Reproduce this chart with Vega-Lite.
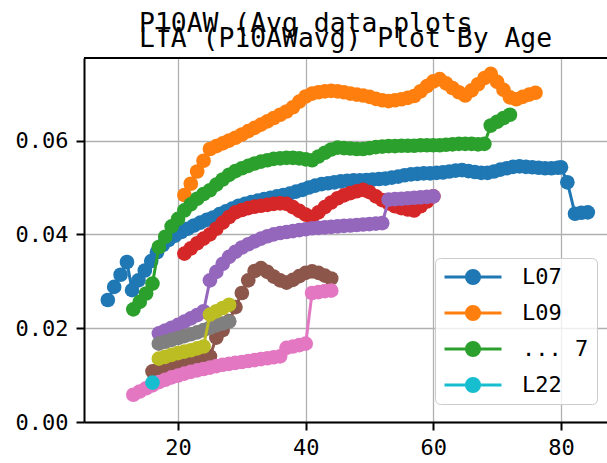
{
"$schema":"https://vega.github.io/schema/vega-lite/v6.json",
"width":523,"height":364,
"autosize":{"type":"none"},
"padding":{"left":84,"top":58,"right":0,"bottom":41},
"background":"white",
"config":{"view":{"stroke":null},"font":"DejaVu Sans Mono"},
"title":{"text":"\u00a0P10AW (Avg data plots","subtitle":"LTA (P10AWavg) Plot By Age","anchor":"start","frame":"group","dx":55,"offset":5,"font":"DejaVu Sans Mono","fontSize":26.4,"fontWeight":"normal","color":"black","subtitleFont":"DejaVu Sans Mono","subtitleFontSize":26.4,"subtitleColor":"black","subtitlePadding":-12},
"datasets":{"pts":[
{"s":"L07","age":9,"v":0.026},{"s":"L07","age":10,"v":0.0288},{"s":"L07","age":11,"v":0.0314},{"s":"L07","age":12,"v":0.0341},{"s":"L07","age":12.8,"v":0.0281},{"s":"L07","age":13.8,"v":0.0302},{"s":"L07","age":14.8,"v":0.0323},{"s":"L07","age":15.8,"v":0.0343},{"s":"L07","age":16.7,"v":0.0362},{"s":"L07","age":17.6,"v":0.0377},{"s":"L07","age":18.5,"v":0.0388},{"s":"L07","age":19.5,"v":0.0397},{"s":"L07","age":20.5,"v":0.0405},{"s":"L07","age":21.5,"v":0.0412},{"s":"L07","age":22.5,"v":0.0419},{"s":"L07","age":23.5,"v":0.0425},{"s":"L07","age":24.5,"v":0.0431},{"s":"L07","age":25.5,"v":0.0436},{"s":"L07","age":26.5,"v":0.0443},{"s":"L07","age":27.5,"v":0.0449},{"s":"L07","age":28.5,"v":0.0455},{"s":"L07","age":29.5,"v":0.0461},{"s":"L07","age":30.5,"v":0.0465},{"s":"L07","age":31.5,"v":0.0469},{"s":"L07","age":32.5,"v":0.0472},{"s":"L07","age":33.5,"v":0.0475},{"s":"L07","age":34.5,"v":0.0478},{"s":"L07","age":35.5,"v":0.0481},{"s":"L07","age":36.5,"v":0.0484},{"s":"L07","age":37.5,"v":0.0487},{"s":"L07","age":38.5,"v":0.0491},{"s":"L07","age":39.5,"v":0.0495},{"s":"L07","age":40.5,"v":0.05},{"s":"L07","age":41.5,"v":0.0504},{"s":"L07","age":42.5,"v":0.0507},{"s":"L07","age":43.5,"v":0.0509},{"s":"L07","age":44.5,"v":0.0511},{"s":"L07","age":45.5,"v":0.0513},{"s":"L07","age":46.5,"v":0.0514},{"s":"L07","age":47.5,"v":0.0515},{"s":"L07","age":48.5,"v":0.0515},{"s":"L07","age":49.5,"v":0.0516},{"s":"L07","age":50.5,"v":0.0517},{"s":"L07","age":51.5,"v":0.0518},{"s":"L07","age":52.5,"v":0.0519},{"s":"L07","age":53.5,"v":0.0521},{"s":"L07","age":54.5,"v":0.0523},{"s":"L07","age":55.5,"v":0.0526},{"s":"L07","age":56.5,"v":0.0528},{"s":"L07","age":57.5,"v":0.0529},{"s":"L07","age":58.5,"v":0.053},{"s":"L07","age":59.5,"v":0.053},{"s":"L07","age":60.5,"v":0.0531},{"s":"L07","age":61.5,"v":0.0532},{"s":"L07","age":62.5,"v":0.0534},{"s":"L07","age":63.5,"v":0.0536},{"s":"L07","age":64.5,"v":0.0537},{"s":"L07","age":65.5,"v":0.0535},{"s":"L07","age":66.5,"v":0.0533},{"s":"L07","age":67.5,"v":0.0531},{"s":"L07","age":68.5,"v":0.0531},{"s":"L07","age":69.5,"v":0.0534},{"s":"L07","age":70.5,"v":0.0538},{"s":"L07","age":71.5,"v":0.0541},{"s":"L07","age":72.5,"v":0.0544},{"s":"L07","age":73.5,"v":0.0545},{"s":"L07","age":74.5,"v":0.0544},{"s":"L07","age":75.5,"v":0.0543},{"s":"L07","age":76.5,"v":0.0542},{"s":"L07","age":77.5,"v":0.0541},{"s":"L07","age":78.5,"v":0.0541},{"s":"L07","age":79.5,"v":0.0542},{"s":"L07","age":80,"v":0.0543},{"s":"L07","age":81,"v":0.0511},{"s":"L07","age":82.2,"v":0.0444},{"s":"L07","age":83.2,"v":0.0446},{"s":"L07","age":84.2,"v":0.0447},
{"s":"L09","age":21,"v":0.0484},{"s":"L09","age":22,"v":0.0508},{"s":"L09","age":23,"v":0.0534},{"s":"L09","age":24,"v":0.0557},{"s":"L09","age":25,"v":0.0582},{"s":"L09","age":26,"v":0.0588},{"s":"L09","age":27,"v":0.0594},{"s":"L09","age":28,"v":0.06},{"s":"L09","age":29,"v":0.0606},{"s":"L09","age":30,"v":0.0613},{"s":"L09","age":31,"v":0.062},{"s":"L09","age":32,"v":0.0627},{"s":"L09","age":33,"v":0.0634},{"s":"L09","age":34,"v":0.0641},{"s":"L09","age":35,"v":0.0648},{"s":"L09","age":36,"v":0.0655},{"s":"L09","age":37,"v":0.0662},{"s":"L09","age":38,"v":0.0671},{"s":"L09","age":39,"v":0.0683},{"s":"L09","age":40,"v":0.0694},{"s":"L09","age":41,"v":0.07},{"s":"L09","age":42,"v":0.0703},{"s":"L09","age":43,"v":0.0705},{"s":"L09","age":44,"v":0.0706},{"s":"L09","age":45,"v":0.0705},{"s":"L09","age":46,"v":0.0703},{"s":"L09","age":47,"v":0.07},{"s":"L09","age":48,"v":0.0698},{"s":"L09","age":49,"v":0.0696},{"s":"L09","age":50,"v":0.0693},{"s":"L09","age":51,"v":0.0689},{"s":"L09","age":52,"v":0.0686},{"s":"L09","age":53,"v":0.0684},{"s":"L09","age":54,"v":0.0686},{"s":"L09","age":55,"v":0.0688},{"s":"L09","age":56,"v":0.0691},{"s":"L09","age":57,"v":0.0695},{"s":"L09","age":58,"v":0.0705},{"s":"L09","age":59,"v":0.0716},{"s":"L09","age":60,"v":0.0726},{"s":"L09","age":61,"v":0.0731},{"s":"L09","age":62,"v":0.0722},{"s":"L09","age":63,"v":0.0712},{"s":"L09","age":64,"v":0.0703},{"s":"L09","age":65,"v":0.0696},{"s":"L09","age":66,"v":0.0707},{"s":"L09","age":67,"v":0.072},{"s":"L09","age":68,"v":0.0733},{"s":"L09","age":69,"v":0.0742},{"s":"L09","age":70,"v":0.0725},{"s":"L09","age":71,"v":0.0708},{"s":"L09","age":72,"v":0.0692},{"s":"L09","age":73,"v":0.0688},{"s":"L09","age":74,"v":0.0693},{"s":"L09","age":75,"v":0.0698},{"s":"L09","age":76,"v":0.0702},
{"s":"L10","age":13,"v":0.024},{"s":"L10","age":14,"v":0.0256},{"s":"L10","age":15,"v":0.0274},{"s":"L10","age":16,"v":0.0295},{"s":"L10","age":17,"v":0.0373},{"s":"L10","age":18,"v":0.0395},{"s":"L10","age":19,"v":0.0417},{"s":"L10","age":20,"v":0.0433},{"s":"L10","age":21,"v":0.0451},{"s":"L10","age":22,"v":0.0464},{"s":"L10","age":23,"v":0.0476},{"s":"L10","age":24,"v":0.0486},{"s":"L10","age":25,"v":0.0494},{"s":"L10","age":26,"v":0.0506},{"s":"L10","age":27,"v":0.0517},{"s":"L10","age":28,"v":0.0527},{"s":"L10","age":29,"v":0.0535},{"s":"L10","age":30,"v":0.0541},{"s":"L10","age":31,"v":0.0546},{"s":"L10","age":32,"v":0.0551},{"s":"L10","age":33,"v":0.0555},{"s":"L10","age":34,"v":0.0558},{"s":"L10","age":35,"v":0.0561},{"s":"L10","age":36,"v":0.0562},{"s":"L10","age":37,"v":0.0563},{"s":"L10","age":38,"v":0.0563},{"s":"L10","age":39,"v":0.0562},{"s":"L10","age":40,"v":0.056},{"s":"L10","age":41,"v":0.0558},{"s":"L10","age":42,"v":0.0566},{"s":"L10","age":43,"v":0.0574},{"s":"L10","age":44,"v":0.0581},{"s":"L10","age":45,"v":0.0585},{"s":"L10","age":46,"v":0.0584},{"s":"L10","age":47,"v":0.0583},{"s":"L10","age":48,"v":0.0582},{"s":"L10","age":49,"v":0.0582},{"s":"L10","age":50,"v":0.0584},{"s":"L10","age":51,"v":0.0586},{"s":"L10","age":52,"v":0.0587},{"s":"L10","age":53,"v":0.0588},{"s":"L10","age":54,"v":0.0588},{"s":"L10","age":55,"v":0.0589},{"s":"L10","age":56,"v":0.0589},{"s":"L10","age":57,"v":0.0589},{"s":"L10","age":58,"v":0.059},{"s":"L10","age":59,"v":0.059},{"s":"L10","age":60,"v":0.059},{"s":"L10","age":61,"v":0.059},{"s":"L10","age":62,"v":0.0591},{"s":"L10","age":63,"v":0.0592},{"s":"L10","age":64,"v":0.0593},{"s":"L10","age":65,"v":0.0593},{"s":"L10","age":66,"v":0.0593},{"s":"L10","age":67,"v":0.0592},{"s":"L10","age":68,"v":0.0593},{"s":"L10","age":69,"v":0.0632},{"s":"L10","age":70,"v":0.064},{"s":"L10","age":71,"v":0.0648},{"s":"L10","age":72,"v":0.0655},
{"s":"L11","age":21,"v":0.0359},{"s":"L11","age":22,"v":0.037},{"s":"L11","age":23,"v":0.0381},{"s":"L11","age":24,"v":0.0391},{"s":"L11","age":25,"v":0.04},{"s":"L11","age":26,"v":0.0412},{"s":"L11","age":27,"v":0.0425},{"s":"L11","age":28,"v":0.0437},{"s":"L11","age":29,"v":0.0447},{"s":"L11","age":30,"v":0.0452},{"s":"L11","age":31,"v":0.0456},{"s":"L11","age":32,"v":0.0459},{"s":"L11","age":33,"v":0.0461},{"s":"L11","age":34,"v":0.0463},{"s":"L11","age":35,"v":0.0465},{"s":"L11","age":36,"v":0.0466},{"s":"L11","age":37,"v":0.0465},{"s":"L11","age":38,"v":0.0458},{"s":"L11","age":39,"v":0.045},{"s":"L11","age":40,"v":0.0442},{"s":"L11","age":41,"v":0.0437},{"s":"L11","age":42,"v":0.0447},{"s":"L11","age":43,"v":0.0458},{"s":"L11","age":44,"v":0.0468},{"s":"L11","age":45,"v":0.0477},{"s":"L11","age":46,"v":0.0483},{"s":"L11","age":47,"v":0.0488},{"s":"L11","age":48,"v":0.0492},{"s":"L11","age":49,"v":0.0495},{"s":"L11","age":50,"v":0.049},{"s":"L11","age":51,"v":0.0481},{"s":"L11","age":52,"v":0.0473},{"s":"L11","age":53,"v":0.0466},{"s":"L11","age":54,"v":0.046},{"s":"L11","age":55,"v":0.0456},{"s":"L11","age":56,"v":0.0453},{"s":"L11","age":57,"v":0.0451},{"s":"L11","age":58,"v":0.046},{"s":"L11","age":59,"v":0.047},{"s":"L11","age":60,"v":0.0481},
{"s":"L12","age":17,"v":0.0189},{"s":"L12","age":18,"v":0.0195},{"s":"L12","age":19,"v":0.0201},{"s":"L12","age":20,"v":0.0207},{"s":"L12","age":21,"v":0.0214},{"s":"L12","age":22,"v":0.0221},{"s":"L12","age":23,"v":0.0228},{"s":"L12","age":24,"v":0.0236},{"s":"L12","age":25,"v":0.0302},{"s":"L12","age":26,"v":0.032},{"s":"L12","age":27,"v":0.0337},{"s":"L12","age":28,"v":0.0352},{"s":"L12","age":29,"v":0.0363},{"s":"L12","age":30,"v":0.0372},{"s":"L12","age":31,"v":0.0379},{"s":"L12","age":32,"v":0.0385},{"s":"L12","age":33,"v":0.0391},{"s":"L12","age":34,"v":0.0396},{"s":"L12","age":35,"v":0.04},{"s":"L12","age":36,"v":0.0403},{"s":"L12","age":37,"v":0.0405},{"s":"L12","age":38,"v":0.0407},{"s":"L12","age":39,"v":0.0409},{"s":"L12","age":40,"v":0.0411},{"s":"L12","age":41,"v":0.0413},{"s":"L12","age":42,"v":0.0414},{"s":"L12","age":43,"v":0.0415},{"s":"L12","age":44,"v":0.0416},{"s":"L12","age":45,"v":0.0417},{"s":"L12","age":46,"v":0.0418},{"s":"L12","age":47,"v":0.0419},{"s":"L12","age":48,"v":0.042},{"s":"L12","age":49,"v":0.0421},{"s":"L12","age":50,"v":0.0422},{"s":"L12","age":51,"v":0.0423},{"s":"L12","age":52,"v":0.0424},{"s":"L12","age":53,"v":0.0474},{"s":"L12","age":54,"v":0.0475},{"s":"L12","age":55,"v":0.0476},{"s":"L12","age":56,"v":0.0477},{"s":"L12","age":57,"v":0.0478},{"s":"L12","age":58,"v":0.0479},{"s":"L12","age":59,"v":0.048},{"s":"L12","age":60,"v":0.0481},
{"s":"L13","age":16,"v":0.0108},{"s":"L13","age":17,"v":0.0112},{"s":"L13","age":18,"v":0.0116},{"s":"L13","age":19,"v":0.012},{"s":"L13","age":20,"v":0.0124},{"s":"L13","age":21,"v":0.0127},{"s":"L13","age":22,"v":0.013},{"s":"L13","age":23,"v":0.0133},{"s":"L13","age":24,"v":0.0136},{"s":"L13","age":25,"v":0.014},{"s":"L13","age":26,"v":0.018},{"s":"L13","age":27,"v":0.0196},{"s":"L13","age":28,"v":0.0215},{"s":"L13","age":29,"v":0.0245},{"s":"L13","age":30,"v":0.0275},{"s":"L13","age":31,"v":0.0302},{"s":"L13","age":32,"v":0.0322},{"s":"L13","age":33,"v":0.0328},{"s":"L13","age":34,"v":0.032},{"s":"L13","age":35,"v":0.031},{"s":"L13","age":36,"v":0.0302},{"s":"L13","age":37,"v":0.0297},{"s":"L13","age":38,"v":0.0303},{"s":"L13","age":39,"v":0.0311},{"s":"L13","age":40,"v":0.0318},{"s":"L13","age":41,"v":0.0321},{"s":"L13","age":42,"v":0.0318},{"s":"L13","age":43,"v":0.0312},{"s":"L13","age":44,"v":0.0306},
{"s":"L14","age":13,"v":0.0058},{"s":"L14","age":14,"v":0.0065},{"s":"L14","age":15,"v":0.0072},{"s":"L14","age":16,"v":0.0078},{"s":"L14","age":17,"v":0.0085},{"s":"L14","age":18,"v":0.009},{"s":"L14","age":19,"v":0.0095},{"s":"L14","age":20,"v":0.0099},{"s":"L14","age":21,"v":0.0103},{"s":"L14","age":22,"v":0.0107},{"s":"L14","age":23,"v":0.011},{"s":"L14","age":24,"v":0.0113},{"s":"L14","age":25,"v":0.0116},{"s":"L14","age":26,"v":0.0119},{"s":"L14","age":27,"v":0.0122},{"s":"L14","age":28,"v":0.0124},{"s":"L14","age":29,"v":0.0126},{"s":"L14","age":30,"v":0.0128},{"s":"L14","age":31,"v":0.013},{"s":"L14","age":32,"v":0.0132},{"s":"L14","age":33,"v":0.0134},{"s":"L14","age":34,"v":0.0136},{"s":"L14","age":35,"v":0.0138},{"s":"L14","age":36,"v":0.014},{"s":"L14","age":37,"v":0.0158},{"s":"L14","age":38,"v":0.0161},{"s":"L14","age":39,"v":0.0164},{"s":"L14","age":40,"v":0.0167},{"s":"L14","age":41,"v":0.0275},{"s":"L14","age":42,"v":0.0277},{"s":"L14","age":43,"v":0.0279},{"s":"L14","age":44,"v":0.028},
{"s":"L15","age":17,"v":0.0167},{"s":"L15","age":18,"v":0.0171},{"s":"L15","age":19,"v":0.0175},{"s":"L15","age":20,"v":0.0179},{"s":"L15","age":21,"v":0.0183},{"s":"L15","age":22,"v":0.0187},{"s":"L15","age":23,"v":0.0191},{"s":"L15","age":24,"v":0.0196},{"s":"L15","age":25,"v":0.0201},{"s":"L15","age":26,"v":0.0206},{"s":"L15","age":27,"v":0.021},{"s":"L15","age":28,"v":0.0214},
{"s":"L16","age":17,"v":0.0135},{"s":"L16","age":18,"v":0.0139},{"s":"L16","age":19,"v":0.0143},{"s":"L16","age":20,"v":0.0147},{"s":"L16","age":21,"v":0.015},{"s":"L16","age":22,"v":0.0153},{"s":"L16","age":23,"v":0.0157},{"s":"L16","age":24,"v":0.0161},{"s":"L16","age":25,"v":0.0229},{"s":"L16","age":26,"v":0.0236},{"s":"L16","age":27,"v":0.0243},{"s":"L16","age":28,"v":0.025},
{"s":"L22","age":16,"v":0.0084}
]},
"data":{"name":"pts"},
"layer":[
{"encoding":{
"x":{"field":"age","type":"quantitative","scale":{"domain":[5.27,87.21],"nice":false,"zero":false},"axis":{"values":[20,40,60,80],"title":null,"grid":true,"gridColor":"#b0b0b0","gridWidth":1.3,"domainColor":"black","domainWidth":2,"tickColor":"black","tickWidth":2,"tickSize":8,"labelFont":"DejaVu Sans Mono","labelFontSize":22,"labelColor":"black","labelPadding":7,"labelFlush":false}},
"y":{"field":"v","type":"quantitative","scale":{"domain":[0,0.0776],"nice":false,"zero":false},"axis":{"values":[0,0.02,0.04,0.06],"format":".2f","title":null,"grid":true,"gridColor":"#b0b0b0","gridWidth":1.3,"domainColor":"black","domainWidth":2,"tickColor":"black","tickWidth":2,"tickSize":8,"labelFont":"DejaVu Sans Mono","labelFontSize":22,"labelColor":"black","labelPadding":8}},
"color":{"field":"s","type":"nominal","scale":{"domain":["L07","L09","L10","L11","L12","L13","L14","L15","L16","L22"],"range":["#1f77b4","#ff7f0e","#2ca02c","#d62728","#9467bd","#8c564b","#e377c2","#7f7f7f","#bcbd22","#17becf"]},
"legend":{"values":["L07","L09","L10","L22"],"title":null,"orient":"none","legendX":351,"legendY":200,"labelExpr":"datum.label == 'L10' ? '... 7' : datum.label","symbolType":"M-1,0L1,0M-0.23,0A0.23,0.23,0,1,1,0.23,0A0.23,0.23,0,1,1,-0.23,0Z","symbolSize":3249,"symbolStrokeWidth":3,"symbolOpacity":1,"clipHeight":22,"rowPadding":14,"labelOffset":19,"padding":8,"cornerRadius":5,"strokeColor":"#cccccc","fillColor":"rgba(255,255,255,0.8)","labelFont":"DejaVu Sans Mono","labelFontSize":22,"labelColor":"black","encode":{"symbols":{"update":{"fill":{"scale":"color","field":"value"},"stroke":{"scale":"color","field":"value"}}}}}}
},
"layer":[
{"transform":[{"filter":"datum.s == 'L07'"}],"mark":{"type":"line","strokeWidth":3,"point":{"filled":true,"size":215,"opacity":1}}},
{"transform":[{"filter":"datum.s == 'L09'"}],"mark":{"type":"line","strokeWidth":3,"point":{"filled":true,"size":215,"opacity":1}}},
{"transform":[{"filter":"datum.s == 'L10'"}],"mark":{"type":"line","strokeWidth":3,"point":{"filled":true,"size":215,"opacity":1}}},
{"transform":[{"filter":"datum.s == 'L11'"}],"mark":{"type":"line","strokeWidth":3,"point":{"filled":true,"size":215,"opacity":1}}},
{"transform":[{"filter":"datum.s == 'L12'"}],"mark":{"type":"line","strokeWidth":3,"point":{"filled":true,"size":215,"opacity":1}}},
{"transform":[{"filter":"datum.s == 'L13'"}],"mark":{"type":"line","strokeWidth":3,"point":{"filled":true,"size":215,"opacity":1}}},
{"transform":[{"filter":"datum.s == 'L14'"}],"mark":{"type":"line","strokeWidth":3,"point":{"filled":true,"size":215,"opacity":1}}},
{"transform":[{"filter":"datum.s == 'L15'"}],"mark":{"type":"line","strokeWidth":3,"point":{"filled":true,"size":215,"opacity":1}}},
{"transform":[{"filter":"datum.s == 'L16'"}],"mark":{"type":"line","strokeWidth":3,"point":{"filled":true,"size":215,"opacity":1}}},
{"transform":[{"filter":"datum.s == 'L22'"}],"mark":{"type":"line","strokeWidth":3,"point":{"filled":true,"size":215,"opacity":1}}}
]},
{"mark":{"type":"rule","color":"black","strokeWidth":2},"encoding":{"y":{"datum":0.0776,"type":"quantitative"}}}
]
}
